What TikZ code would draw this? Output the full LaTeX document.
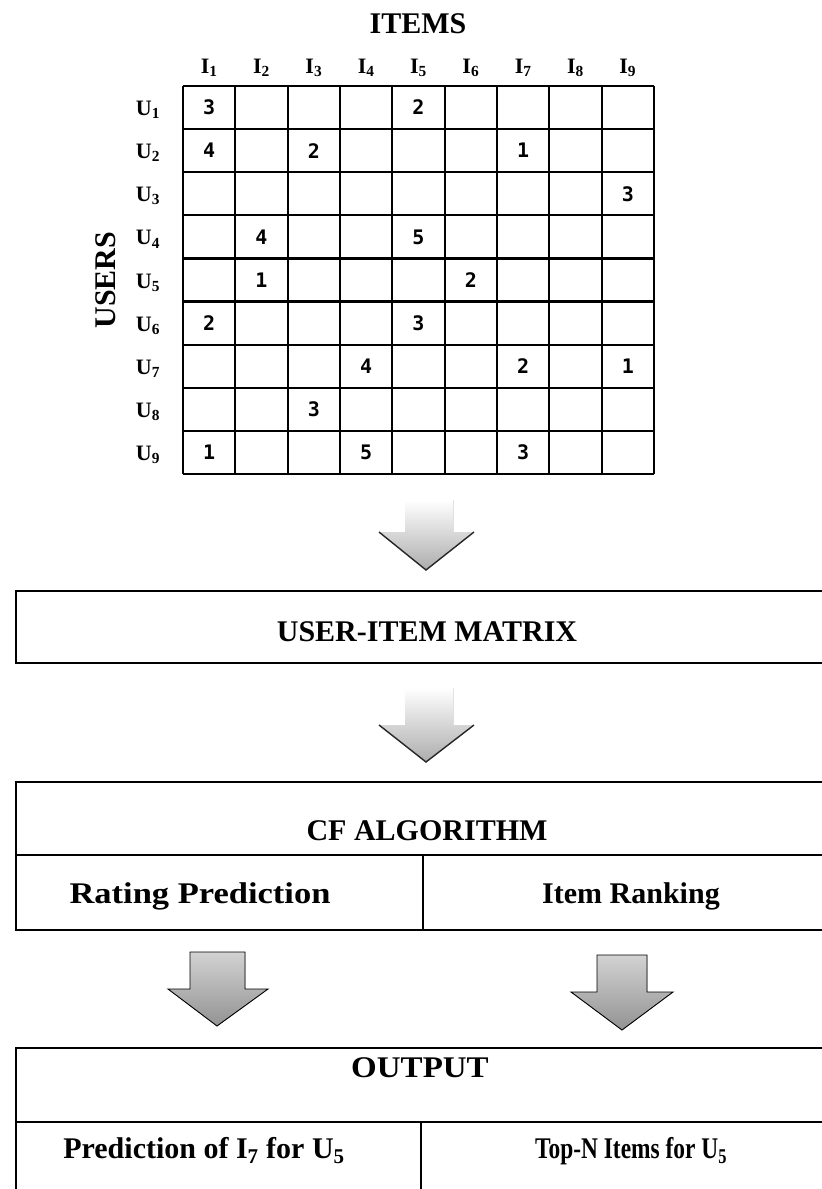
\documentclass[tikz,border=0pt]{standalone}
\usepackage{fontspec}
\setmainfont{Liberation Serif}
\newfontfamily\numfont{DejaVu Sans Mono}
\usepackage{graphicx}
\usetikzlibrary{calc}
\tikzset{
  gridline/.style={line width=2.2pt},
  boxline/.style={line width=2pt},
  big/.style={font=\fontsize{30}{36}\selectfont\bfseries, inner sep=0pt, anchor=base},
  cellnum/.style={font=\numfont\bfseries\fontsize{20}{24}\selectfont, inner sep=0pt},
  hdr/.style={font=\fontsize{22}{26}\selectfont\bfseries, inner sep=0pt, anchor=base},
  arrowA/.style={top color=white, bottom color=gray!65, draw=none},
  arrowAedge/.style={line width=1.4pt, draw=black!85},
  arrowB/.style={top color=gray!35, bottom color=gray!85, draw=black, line width=0.9pt},
}
\begin{document}
\begin{tikzpicture}[x=1pt,y=-1pt]
\useasboundingbox (0,0) rectangle (822,1189);
\fill[white] (0,0) rectangle (822,1189);

% ---------- matrix ----------
\def\mx{183}\def\my{86}\def\cw{52.33}\def\rh{43.11}
\foreach \i in {0,...,9}{
  \draw[gridline] ({\mx+\i*\cw},\my) -- ({\mx+\i*\cw},{\my+9*\rh});
  \draw[gridline] (\mx,{\my+\i*\rh}) -- ({\mx+9*\cw},{\my+\i*\rh});
}
\node[big] (items) at (418,33) {ITEMS};
\node[big, rotate=90, anchor=center] (users) at (106,280) {USERS};
\foreach \c in {1,...,9}{
  \node[hdr] (h\c) at ({\mx+(\c-0.5)*\cw},73) {I\textsubscript{\c}};
}
\foreach \r in {1,...,9}{
  \node[hdr] (u\r) at (148,{\my+(\r-0.5)*\rh+8}) {U\textsubscript{\r}};
}
\foreach \r/\c/\v in {1/1/3, 1/5/2, 2/1/4, 2/3/2, 2/7/1, 3/9/3, 4/2/4, 4/5/5,
  5/2/1, 5/6/2, 6/1/2, 6/5/3, 7/4/4, 7/7/2, 7/9/1, 8/3/3, 9/1/1, 9/4/5, 9/7/3}{
  \node[cellnum] (c\r-\c) at ({\mx+(\c-0.5)*\cw},{\my+(\r-0.5)*\rh}) {\v};
}

% ---------- arrow 1 ----------
\coordinate (a1tip) at (426,570);
\fill[arrowA] (405,500) -- (453,500) -- (453,532) -- (474,532) -- (a1tip) -- (379,532) -- (405,532) -- cycle;
\draw[arrowAedge] (379,532) -- (a1tip) -- (474,532);

% ---------- USER-ITEM MATRIX box ----------
\draw[boxline] (16,591) rectangle (842,663);
\node[big] (uim) at (427,641) {USER-ITEM MATRIX};

% ---------- arrow 2 ----------
\coordinate (a2tip) at (426,762);
\fill[arrowA] (405,688) -- (453,688) -- (453,725) -- (474,725) -- (a2tip) -- (379,725) -- (405,725) -- cycle;
\draw[arrowAedge] (379,725) -- (a2tip) -- (474,725);

% ---------- CF ALGORITHM box ----------
\draw[boxline] (16,782) rectangle (842,930);
\draw[boxline] (16,855) -- (842,855);
\draw[boxline] (423,855) -- (423,930);
\node[big] (cf) at (427,840) {CF ALGORITHM};
\node[big] (rp) at (200,903) {\scalebox{1.15}[1]{Rating Prediction}};
\node[big] (ir) at (631,903) {Item Ranking};

% ---------- arrows 3 and 4 ----------
\coordinate (a3tip) at (217,1026);
\filldraw[arrowB] (190,952) -- (245,952) -- (245,989) -- (268,989) -- (a3tip) -- (168,989) -- (190,989) -- cycle;
\coordinate (a4tip) at (622,1030);
\filldraw[arrowB] (597,955) -- (647,955) -- (647,992) -- (673,992) -- (a4tip) -- (571,992) -- (597,992) -- cycle;

% ---------- OUTPUT box ----------
\draw[boxline] (16,1048) rectangle (842,1205);
\draw[boxline] (16,1122) -- (842,1122);
\draw[boxline] (421,1122) -- (421,1205);
\node[big] (out) at (420,1077) {\scalebox{1.1}[1]{OUTPUT}};
\node[big] (pred) at (204,1158) {Prediction of I\textsubscript{7} for U\textsubscript{5}};
\node[big] (topn) at (631,1158) {\scalebox{0.78}[1]{Top-N Items for U\textsubscript{5}}};
\end{tikzpicture}
\end{document}
